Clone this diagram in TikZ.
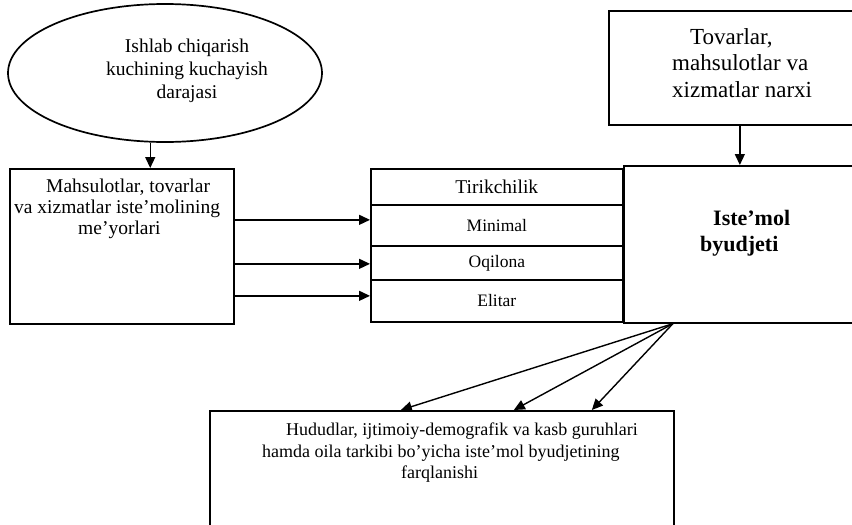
\documentclass[tikz,border=0pt]{standalone}
\usepackage{fontspec}
\setmainfont{Liberation Serif}
\usetikzlibrary{arrows.meta,shapes.geometric}
\begin{document}
\begin{tikzpicture}[x=1pt,y=-1pt,
  box/.style={draw,line width=1.7pt,rectangle,inner sep=0pt,anchor=north west},
  txt/.style={inner sep=0pt},
  arr/.style={line width=1.4pt,-{Triangle[length=11pt,width=10pt]}},
  fa/.style={font=\fontsize{19.5}{23}\selectfont},
  fb/.style={font=\fontsize{19.5}{21}\selectfont},
  fc/.style={font=\fontsize{17.5}{19}\selectfont},
  fd/.style={font=\fontsize{23}{26.5}\selectfont},
  fe/.style={font=\fontsize{22}{26}\selectfont\bfseries},
  ff/.style={font=\fontsize{18}{21.5}\selectfont}
]
\useasboundingbox (0,0) rectangle (852,525);
% shapes
\node[ellipse,draw,line width=1.7pt,minimum width=314pt,minimum height=138pt,inner sep=0pt] (ell) at (165,73) {};
\node[box,minimum width=224pt,minimum height=155pt] (norm) at (9,168) {};
\node[box,minimum width=252pt,minimum height=36pt,fb] (tir) at (370,168) {Tirikchilik};
\node[box,minimum width=252pt,minimum height=41pt,fc] (minb) at (370,204) {Minimal};
\node[box,minimum width=252pt,minimum height=34pt,fc] (oqi) at (370,245) {Oqilona};
\node[box,minimum width=252pt,minimum height=42pt,fc] (eli) at (370,279) {Elitar};
\node[box,minimum width=247pt,minimum height=157pt] (ist) at (623,165) {};
\node[box,minimum width=262pt,minimum height=114pt] (tov) at (608,10) {};
\node[box,minimum width=464pt,minimum height=125pt] (bot) at (209,410) {};
% texts
\node[txt,fa,align=center] (elltxt) at (187,71) {Ishlab chiqarish\\kuchining kuchayish\\darajasi};
\node[txt,fb,align=left,anchor=west] (normtxt) at (14,209) {\hspace*{32pt}Mahsulotlar, tovarlar\\va xizmatlar iste’molining\\\hspace*{64pt}me’yorlari};
\node[txt,fd,align=left,anchor=west] (tovtxt) at (672,63) {\hspace*{18pt}Tovarlar,\\mahsulotlar va\\xizmatlar narxi};
\node[txt,fe,align=left,anchor=west] (isttxt) at (700,233) {\hspace*{13pt}Iste’mol\\byudjeti};
\node[txt,ff,align=left,anchor=west] (bottxt) at (262,453) {\hspace*{24pt}Hududlar, ijtimoiy-demografik va kasb guruhlari\\hamda oila tarkibi bo’yicha iste’mol byudjetining\\\hspace*{139pt}farqlanishi};
% connectors
\path (ell.258) coordinate (e1);
\draw[arr] (e1) -- (e1 |- norm.north);
\draw[arr] (tov.south) -- (tov.south |- ist.north);
\path ([yshift=5.5pt]minb.west) coordinate (a1);
\path ([yshift=-1pt]oqi.west) coordinate (a2);
\path ([yshift=5pt]eli.west) coordinate (a3);
\draw[arr] (norm.east |- a1) -- (a1);
\draw[arr] (norm.east |- a2) -- (a2);
\draw[arr] (norm.east |- a3) -- (a3);
\path ([xshift=-74.5pt]ist.south) coordinate (s0);
\draw[arr] (s0) -- ([xshift=-41pt]bot.north);
\draw[arr] (s0) -- ([xshift=72pt]bot.north);
\draw[arr] (s0) -- ([xshift=150pt]bot.north);
\end{tikzpicture}
\end{document}
